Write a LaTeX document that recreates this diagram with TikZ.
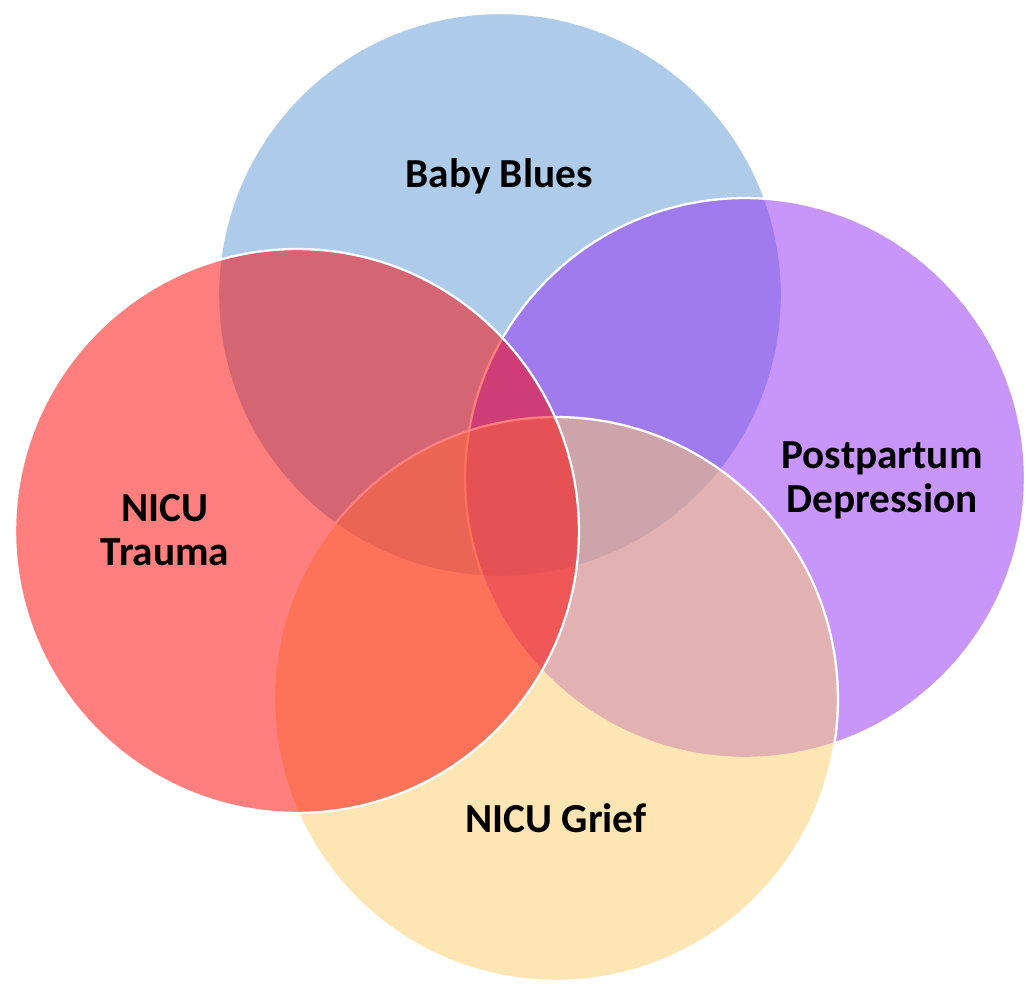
\documentclass[tikz,border=0pt]{standalone}
\usepackage{fontspec}
\setmainfont{Carlito}
\usepackage{xcolor}
\usepackage{tikz}
\usetikzlibrary{positioning}
\definecolor{bluec}{HTML}{5D97D3}
\definecolor{purpc}{HTML}{912DF5}
\definecolor{yelc}{HTML}{FDCD69}
\definecolor{redc}{HTML}{FF0000}
\tikzset{
  venn/.style={draw=white,line width=1.3pt,fill opacity=0.5},
  lbl/.style={font=\bfseries\fontsize{23.5}{25}\selectfont,align=center,text=black}
}
\begin{document}
\begin{tikzpicture}[x=0.02cm,y=0.02cm]
\useasboundingbox (0,0) rectangle (1026,986);
\fill[bluec,venn] (500,691) circle (5.64cm);
\fill[purpc,venn] (745,508) circle (5.6cm);
\fill[yelc,venn] (556,287) circle (5.64cm);
\fill[redc,venn] (297,455) circle (5.64cm);
\node[lbl] (blues) at (499,810) {Baby Blues};
\node[lbl] (ppd) at (882,506) {Postpartum\\Depression};
\node[lbl] (trauma) at (165,456) {NICU\\Trauma};
\node[lbl] (grief) at (556,168) {NICU Grief};
\end{tikzpicture}
\end{document}
